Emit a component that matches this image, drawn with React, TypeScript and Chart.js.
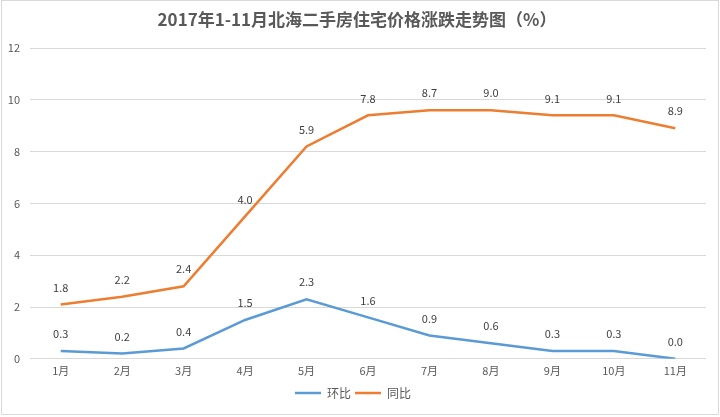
import React, { useEffect, useRef } from "react";
import { Chart, registerables } from "chart.js";

Chart.register(...registerables);

const TITLE = "2017年1-11月北海二手房住宅价格涨跌走势图（%）";
const months = ["1月", "2月", "3月", "4月", "5月", "6月", "7月", "8月", "9月", "10月", "11月"];
const huanbi = [0.3, 0.2, 0.4, 1.5, 2.3, 1.6, 0.9, 0.6, 0.3, 0.3, 0.0];
const tongbi = [1.8, 2.2, 2.4, 4.0, 5.9, 7.8, 8.7, 9.0, 9.1, 9.1, 8.9];
const yTicks = [0, 2, 4, 6, 8, 10, 12];

const FONT = "'Noto Sans CJK SC', 'Noto Sans', sans-serif";

const labelPlugin = {
  id: "valueLabels",
  afterDatasetsDraw(chart: any) {
    const ctx = chart.ctx;
    ctx.save();
    ctx.font = `11px ${FONT}`;
    ctx.fillStyle = "#404040";
    ctx.textAlign = "center";
    ctx.textBaseline = "middle";
    chart.data.datasets.forEach((ds: any, i: number) => {
      const meta = chart.getDatasetMeta(i);
      meta.data.forEach((pt: any, j: number) => {
        ctx.fillText(Number(ds.data[j]).toFixed(1), pt.x, pt.y - 17);
      });
    });
    ctx.restore();
  },
};

const framePlugin = {
  id: "frame",
  beforeDraw(chart: any) {
    const ctx = chart.ctx;
    ctx.save();
    ctx.fillStyle = "#ffffff";
    ctx.fillRect(0, 0, chart.width, chart.height);
    ctx.strokeStyle = "#D9D9D9";
    ctx.lineWidth = 1;
    ctx.strokeRect(1.5, 0.5, chart.width - 3, chart.height - 3);
    ctx.font = `bold 17px ${FONT}`;
    ctx.fillStyle = "#595959";
    ctx.textAlign = "center";
    ctx.textBaseline = "middle";
    ctx.fillText(TITLE, 357, 20);
    ctx.restore();
  },
};

export default function App() {
  const ref = useRef<HTMLCanvasElement>(null);
  useEffect(() => {
    document.body.style.margin = "0";
    const chart = new Chart(ref.current!, {
      type: "line",
      data: {
        labels: months,
        datasets: [
          {
            label: "环比",
            data: huanbi,
            borderColor: "#5B9BD5",
            backgroundColor: "#5B9BD5",
            borderWidth: 2.5,
            pointRadius: 0,
            pointStyle: "line",
            tension: 0,
          },
          {
            label: "同比",
            data: tongbi,
            borderColor: "#ED7D31",
            backgroundColor: "#ED7D31",
            borderWidth: 2.5,
            pointRadius: 0,
            pointStyle: "line",
            tension: 0,
          },
        ],
      },
      options: {
        animation: false,
        responsive: false,
        layout: { padding: { left: 0, right: 14, top: 48, bottom: 8 } },
        plugins: {
          title: { display: false },
          legend: {
            position: "bottom",
            labels: {
              usePointStyle: true,
              pointStyleWidth: 26,
              boxHeight: 12,
              color: "#595959",
              font: { family: FONT, size: 12 },
              padding: 4,
            },
          },
          tooltip: { enabled: false },
        },
        scales: {
          x: {
            offset: true,
            afterFit: (s: any) => { s.height = s.height + 9; },
            grid: { display: false },
            border: { display: false },
            ticks: { color: "#595959", font: { family: FONT, size: 11 }, padding: -3, maxRotation: 0 },
          },
          y: {
            stacked: true,
            min: 0,
            max: 12,
            afterFit: (s: any) => { s.width = 30; },
            afterBuildTicks: (s: any) => { s.ticks = yTicks.map((v) => ({ value: v })); },
            grid: { color: "#D9D9D9", drawTicks: false },
            border: { display: false },
            ticks: { color: "#595959", font: { family: FONT, size: 11 }, padding: 10 },
          },
        },
      },
      plugins: [framePlugin, labelPlugin],
    } as any);
    return () => chart.destroy();
  }, []);
  return (
    <div style={{ position: "fixed", left: 0, top: 0, width: 720, height: 417 }}>
      <canvas ref={ref} width={720} height={417} />
    </div>
  );
}
